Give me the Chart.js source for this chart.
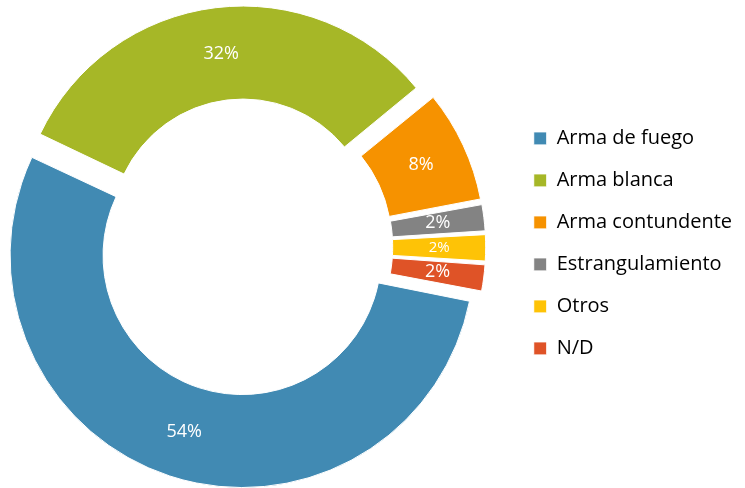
<!DOCTYPE html>
<html>
<head>
<meta charset="utf-8">
<script src="https://cdn.jsdelivr.net/npm/chart.js@4/dist/chart.umd.min.js"></script>
<style>
  html, body { margin: 0; padding: 0; background: #fff; }
  #wrap { width: 745px; height: 488px; overflow: hidden; }
  /* canvas a bit wider than the page and pulled left, so the ring sits left of the legend */
  #weaponChart { display: block; margin-left: -22px; }
</style>
</head>
<body>
<div id="wrap"><canvas id="weaponChart" width="767" height="488"></canvas></div>
<script>
// --- Data ---
const categories = ['Arma de fuego', 'Arma blanca', 'Arma contundente', 'Estrangulamiento', 'Otros', 'N/D'];
const shares = [54, 32, 8, 2, 2, 2];

// --- Styles ---
const sliceColors = ['#418AB3', '#A6B727', '#F69200', '#838383', '#FEC306', '#DF5327'];
const explode = [36, 66, 47, 38, 38, 38]; // per-slice offset so every slice looks pulled out the same
const labelSizes = [18, 18, 18, 18, 15, 18];

// percentages drawn in the middle of each (exploded) ring piece
const sliceLabels = {
  id: 'sliceLabels',
  afterDatasetsDraw(chart) {
    const ctx = chart.ctx;
    const meta = chart.getDatasetMeta(0);
    const total = shares.reduce((a, b) => a + b, 0);
    meta.data.forEach((arc, i) => {
      const p = arc.getProps(['x', 'y', 'startAngle', 'endAngle', 'innerRadius', 'outerRadius'], true);
      const mid = (p.startAngle + p.endAngle) / 2;
      const t = (arc.options.offset || 0) / 4;
      const fix = 1 - Math.sin(Math.min(Math.PI, p.endAngle - p.startAngle));
      const d = t + t * fix + (p.innerRadius + p.outerRadius) / 2;
      ctx.save();
      ctx.fillStyle = '#fff';
      ctx.font = labelSizes[i] + 'px "Open Sans"';
      ctx.textAlign = 'center';
      ctx.textBaseline = 'middle';
      ctx.fillText(Math.round(shares[i] / total * 100) + '%', p.x + Math.cos(mid) * d, p.y + Math.sin(mid) * d);
      ctx.restore();
    });
  }
};

new Chart(document.getElementById('weaponChart'), {
  type: 'doughnut',
  data: {
    labels: categories,
    datasets: [{
      data: shares,
      backgroundColor: sliceColors,
      borderColor: '#fff',
      borderWidth: 1,
      offset: explode,
      hoverOffset: 0
    }]
  },
  options: {
    responsive: false,
    animation: false,
    devicePixelRatio: 1,
    rotation: 101,
    radius: 223,
    cutout: '58.3%',
    layout: { padding: { top: 6, left: 0, right: 3, bottom: 0 } },
    plugins: {
      tooltip: { enabled: false },
      legend: {
        position: 'right',
        align: 'start',
        // empty title only used as top spacing for the item column
        title: { display: true, text: '', padding: { top: 0, bottom: 86 } },
        labels: {
          boxWidth: 13,
          boxHeight: 13,
          padding: 22,
          color: '#000',
          font: { family: '"Open Sans"', size: 20 }
        }
      }
    }
  },
  plugins: [sliceLabels]
});
</script>
</body>
</html>
